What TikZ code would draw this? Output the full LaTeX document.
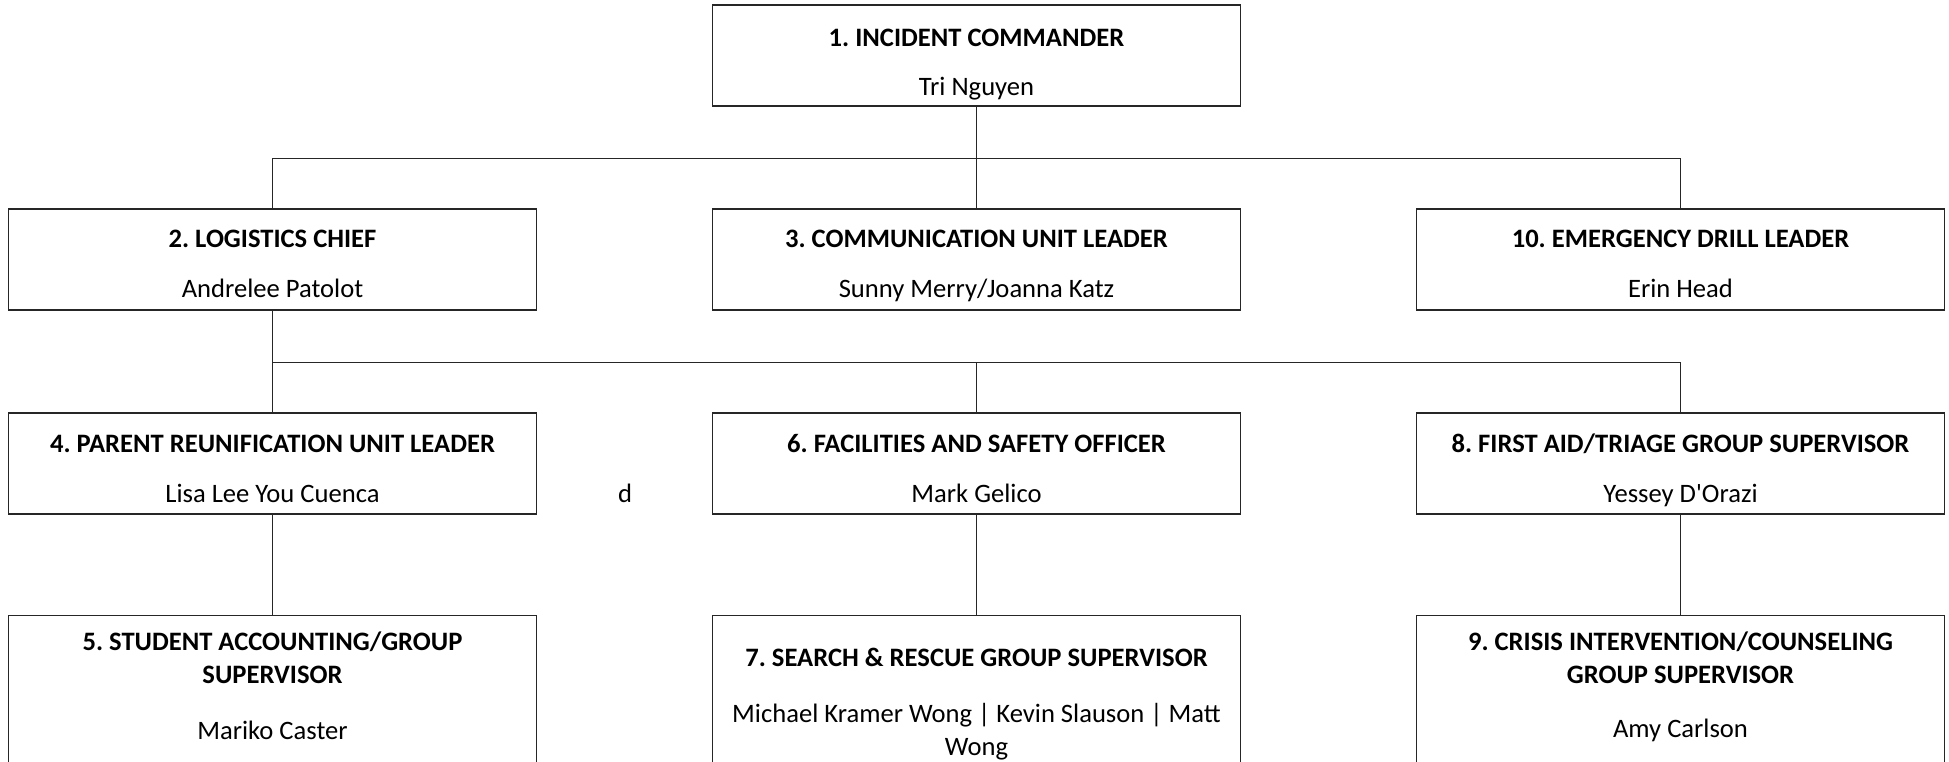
\documentclass[tikz,border=0pt]{standalone}
\usepackage{fontspec}
\setmainfont{Carlito}[Ligatures=TeXOff]
\begin{document}
\frenchspacing
\begin{tikzpicture}[x=0.5pt,y=-0.5pt,
  box/.style={draw=black!85, line width=0.7pt, minimum width=264pt, minimum height=50.5pt, anchor=north west, inner sep=0pt, outer sep=0pt},
  tallbox/.style={box, minimum height=100pt},
  ttl/.style={anchor=base, font=\fontsize{13.3}{16}\selectfont\bfseries, inner sep=0pt},
  nm/.style={anchor=base, font=\fontsize{13.3}{16}\selectfont, inner sep=0pt},
  conn/.style={draw=black!85, line width=0.7pt}]
\clip (0,0) rectangle (1949,761);
% boxes
\node[box] (b1) at (712.5,5) {};
\node[box] (b2) at (8.5,209) {};
\node[box] (b3) at (712.5,209) {};
\node[box] (b10) at (1416.5,209) {};
\node[box] (b4) at (8.5,413) {};
\node[box] (b6) at (712.5,413) {};
\node[box] (b8) at (1416.5,413) {};
\node[tallbox] (b5) at (8.5,615.5) {};
\node[tallbox] (b7) at (712.5,615.5) {};
\node[tallbox] (b9) at (1416.5,615.5) {};
% connectors
\coordinate (j1) at (976.5,158.3);
\draw[conn] (b1.south) -- (j1);
\draw[conn] (j1) -| (b2.north);
\draw[conn] (j1) -- (b3.north);
\draw[conn] (j1) -| (b10.north);
\coordinate (j2) at (272.5,362.3);
\draw[conn] (b2.south) -- (j2) -- (b4.north);
\draw[conn] (j2) -| (b6.north);
\draw[conn] (j2) -| (b8.north);
\draw[conn] (b4.south) -- (b5.north);
\draw[conn] (b6.south) -- (b7.north);
\draw[conn] (b8.south) -- (b9.north);
% texts
\node[ttl] (t1) at (976.5,46) {1. INCIDENT COMMANDER};
\node[nm] (n1) at (976.5,95) {Tri Nguyen};
\node[ttl] (t2) at (272.5,247) {2. LOGISTICS CHIEF};
\node[nm] (n2) at (272.5,297) {Andrelee Patolot};
\node[ttl] (t3) at (976.5,247) {3. COMMUNICATION UNIT LEADER};
\node[nm] (n3) at (976.5,297) {Sunny Merry/Joanna Katz};
\node[ttl] (t10) at (1680.5,247) {10. EMERGENCY DRILL LEADER};
\node[nm] (n10) at (1680.5,297) {Erin Head};
\node[ttl] (t4) at (272.5,452) {4. PARENT REUNIFICATION UNIT LEADER};
\node[nm] (n4) at (272.5,502) {Lisa Lee You Cuenca};
\node[nm] (d) at (625,502) {d};
\node[ttl] (t6) at (976.5,452) {6. FACILITIES AND SAFETY OFFICER};
\node[nm] (n6) at (976.5,502) {Mark Gelico};
\node[ttl] (t8) at (1680.5,452) {8. FIRST AID/TRIAGE GROUP SUPERVISOR};
\node[nm] (n8) at (1680.5,502) {Yessey D'Orazi};
\node[ttl] (t5a) at (272.5,650) {5. STUDENT ACCOUNTING/GROUP};
\node[ttl] (t5b) at (272.5,683) {SUPERVISOR};
\node[nm] (n5) at (272.5,739) {Mariko Caster};
\node[ttl] (t7) at (976.5,666) {7. SEARCH \& RESCUE GROUP SUPERVISOR};
\node[nm] (n7a) at (976.5,722) {Michael Kramer Wong | Kevin Slauson | Matt};
\node[nm] (n7b) at (976.5,755) {Wong};
\node[ttl] (t9a) at (1680.5,650) {9. CRISIS INTERVENTION/COUNSELING};
\node[ttl] (t9b) at (1680.5,683) {GROUP SUPERVISOR};
\node[nm] (n9) at (1680.5,737) {Amy Carlson};
\end{tikzpicture}
\end{document}
